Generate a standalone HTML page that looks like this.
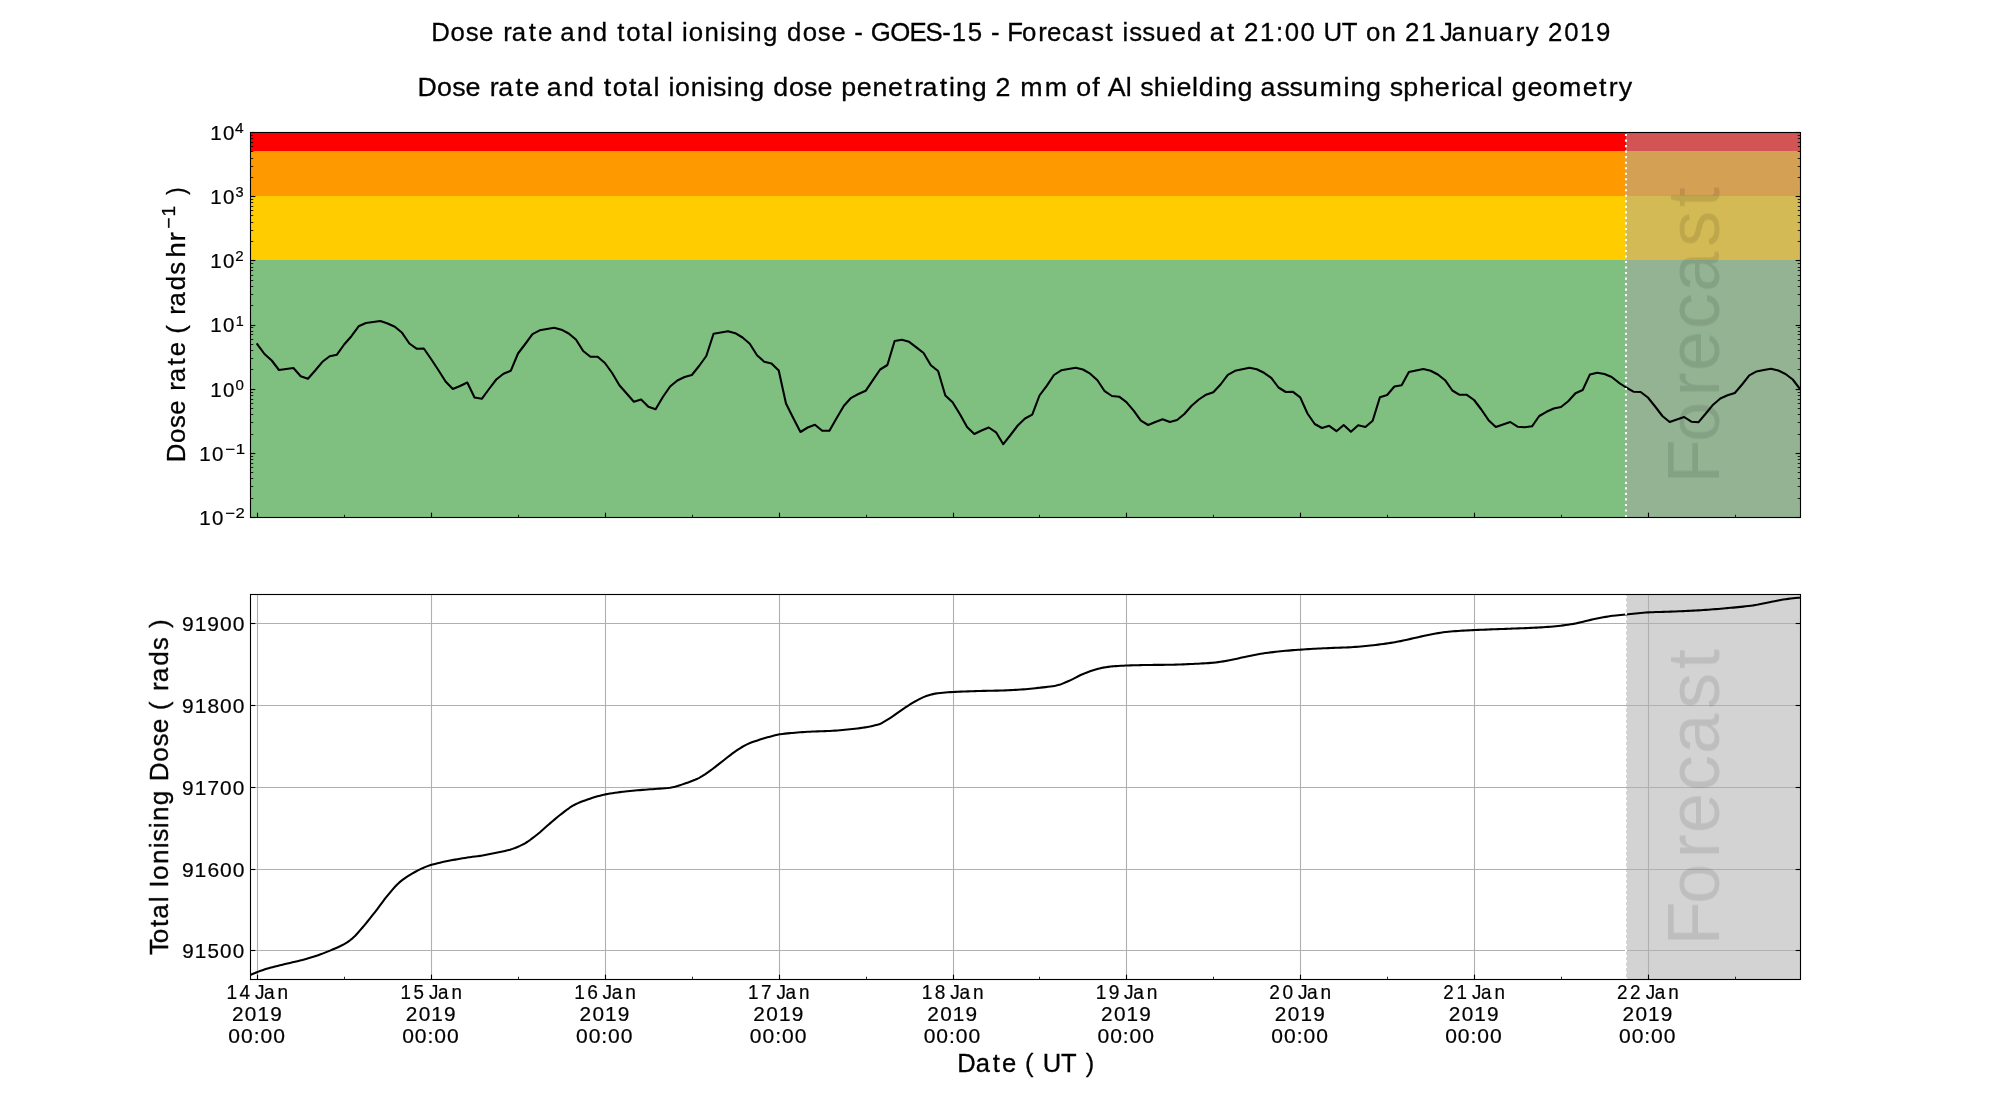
<!DOCTYPE html>
<html><head><meta charset="utf-8"><title>Dose rate and total ionising dose</title>
<style>html,body{margin:0;padding:0;background:#fff;overflow:hidden}svg{display:block}text{font-family:"Liberation Sans",sans-serif;white-space:pre}</style></head>
<body>
<svg width="2000" height="1100" viewBox="0 0 2000 1100">
<rect x="0" y="0" width="2000" height="1100" fill="#fff"/>
<g shape-rendering="crispEdges">
<rect x="250" y="132" width="1550" height="19" fill="#ff0000"/>
<rect x="250" y="151" width="1550" height="45" fill="#ff9900"/>
<rect x="250" y="196" width="1550" height="64" fill="#ffcc00"/>
<rect x="250" y="260" width="1550" height="257" fill="#7fbf7f"/>
<rect x="1626" y="132" width="174" height="385" fill="#a7a7a7" fill-opacity="0.5"/>
<rect x="1626" y="594" width="174" height="385" fill="#a7a7a7" fill-opacity="0.5"/>
</g>
<g stroke="#b0b0b0" stroke-width="1.11" fill="none">
<line x1="257.5" y1="594.0" x2="257.5" y2="979.0"/>
<line x1="431.5" y1="594.0" x2="431.5" y2="979.0"/>
<line x1="605.5" y1="594.0" x2="605.5" y2="979.0"/>
<line x1="779.5" y1="594.0" x2="779.5" y2="979.0"/>
<line x1="953.5" y1="594.0" x2="953.5" y2="979.0"/>
<line x1="1126.5" y1="594.0" x2="1126.5" y2="979.0"/>
<line x1="1300.5" y1="594.0" x2="1300.5" y2="979.0"/>
<line x1="1474.5" y1="594.0" x2="1474.5" y2="979.0"/>
<line x1="1648.5" y1="594.0" x2="1648.5" y2="979.0"/>
<line x1="250.0" y1="950.5" x2="1800.0" y2="950.5"/>
<line x1="250.0" y1="869.5" x2="1800.0" y2="869.5"/>
<line x1="250.0" y1="787.5" x2="1800.0" y2="787.5"/>
<line x1="250.0" y1="705.5" x2="1800.0" y2="705.5"/>
<line x1="250.0" y1="623.5" x2="1800.0" y2="623.5"/>
</g>
<defs><clipPath id="c1"><rect x="250" y="132" width="1550" height="385"/></clipPath><clipPath id="c2"><rect x="250" y="594" width="1550" height="385"/></clipPath></defs>
<path clip-path="url(#c1)" d="M257.24,344.20 L264.49,354.00 L271.73,360.50 L278.97,370.00 L286.21,369.00 L293.46,368.00 L300.70,376.20 L307.94,378.80 L315.19,370.50 L322.43,361.80 L329.67,356.20 L336.92,354.70 L344.16,344.50 L351.40,336.20 L358.64,326.30 L365.89,323.00 L373.13,322.00 L380.37,321.00 L387.62,323.50 L394.86,326.70 L402.10,332.80 L409.35,343.50 L416.59,348.70 L423.83,348.50 L431.07,359.00 L438.32,370.00 L445.56,381.50 L452.80,389.00 L460.05,386.00 L467.29,382.50 L474.53,397.50 L481.78,398.80 L489.02,389.00 L496.26,379.50 L503.50,373.70 L510.75,370.80 L517.99,353.50 L525.23,344.00 L532.48,334.20 L539.72,330.30 L546.96,329.00 L554.21,327.80 L561.45,329.70 L568.69,333.50 L575.93,339.50 L583.18,351.00 L590.42,356.80 L597.66,356.80 L604.91,363.00 L612.15,373.00 L619.39,385.20 L626.64,393.50 L633.88,401.80 L641.12,399.50 L648.37,406.80 L655.61,409.30 L662.85,397.00 L670.09,386.50 L677.34,380.50 L684.58,377.00 L691.82,375.00 L699.07,366.00 L706.31,356.00 L713.55,333.80 L720.80,332.50 L728.04,331.20 L735.28,333.20 L742.52,337.50 L749.77,343.70 L757.01,355.30 L764.25,361.70 L771.50,363.50 L778.74,370.50 L785.98,403.50 L793.22,418.00 L800.47,432.00 L807.71,427.50 L814.95,424.80 L822.20,430.80 L829.44,430.80 L836.68,418.00 L843.93,405.80 L851.17,397.80 L858.41,394.00 L865.65,390.80 L872.90,380.20 L880.14,369.50 L887.38,365.00 L894.63,341.00 L901.87,339.80 L909.11,341.80 L916.36,347.30 L923.60,353.00 L930.84,365.20 L938.09,371.00 L945.33,395.50 L952.57,402.20 L959.81,414.00 L967.06,427.00 L974.30,434.00 L981.54,430.50 L988.79,427.50 L996.03,432.30 L1003.27,444.20 L1010.52,435.00 L1017.76,425.50 L1025.00,418.50 L1032.24,414.70 L1039.49,395.50 L1046.73,385.80 L1053.97,375.00 L1061.22,370.30 L1068.46,369.00 L1075.70,367.80 L1082.94,369.50 L1090.19,373.70 L1097.43,380.20 L1104.67,391.20 L1111.92,396.00 L1119.16,396.70 L1126.40,402.20 L1133.65,410.70 L1140.89,420.70 L1148.13,425.00 L1155.38,422.00 L1162.62,419.20 L1169.86,422.00 L1177.10,420.00 L1184.35,414.00 L1191.59,405.70 L1198.83,399.50 L1206.08,394.70 L1213.32,392.30 L1220.56,384.50 L1227.81,374.80 L1235.05,370.80 L1242.29,369.30 L1249.53,367.80 L1256.78,369.30 L1264.02,372.80 L1271.26,377.80 L1278.51,387.50 L1285.75,392.00 L1292.99,391.80 L1300.23,397.30 L1307.48,413.50 L1314.72,424.00 L1321.96,428.00 L1329.21,425.80 L1336.45,431.20 L1343.69,425.00 L1350.94,431.80 L1358.18,425.30 L1365.42,427.00 L1372.66,420.70 L1379.91,397.30 L1387.15,395.00 L1394.39,386.50 L1401.64,385.30 L1408.88,372.00 L1416.12,370.50 L1423.37,369.00 L1430.61,370.80 L1437.85,374.50 L1445.10,380.20 L1452.34,390.50 L1459.58,394.80 L1466.82,394.80 L1474.07,400.00 L1481.31,409.50 L1488.55,420.20 L1495.80,427.00 L1503.04,424.50 L1510.28,422.00 L1517.53,426.70 L1524.77,427.30 L1532.01,426.30 L1539.25,416.00 L1546.50,411.80 L1553.74,408.50 L1560.98,407.00 L1568.23,401.30 L1575.47,393.30 L1582.71,390.00 L1589.95,374.40 L1597.20,372.80 L1604.44,374.00 L1611.68,377.00 L1618.93,382.80 L1626.17,387.50 L1633.41,391.70 L1640.66,392.00 L1647.90,397.50 L1655.14,406.50 L1662.38,416.00 L1669.63,422.00 L1676.87,419.50 L1684.11,417.00 L1691.36,421.70 L1698.60,422.20 L1705.84,413.50 L1713.09,404.70 L1720.33,398.50 L1727.57,395.30 L1734.82,393.00 L1742.06,384.50 L1749.30,375.30 L1756.54,371.40 L1763.79,370.00 L1771.03,368.80 L1778.27,370.50 L1785.52,374.00 L1792.76,379.50 L1800.00,389.00" fill="none" stroke="#000" stroke-width="2.08" stroke-linejoin="round" stroke-linecap="square"/>
<path clip-path="url(#c2)" d="M250.00,975.09 L252.50,973.99 L255.00,972.95 L257.50,971.97 L257.75,971.88 L260.00,971.05 L262.50,970.18 L265.00,969.35 L267.50,968.57 L268.75,968.20 L270.00,967.85 L272.50,967.17 L275.00,966.52 L277.50,965.90 L280.00,965.30 L282.50,964.70 L285.00,964.10 L287.50,963.49 L290.00,962.89 L292.50,962.31 L295.00,961.73 L297.50,961.15 L300.00,960.56 L302.50,959.94 L305.00,959.29 L306.25,958.95 L307.50,958.60 L310.00,957.86 L312.50,957.08 L315.00,956.26 L317.50,955.41 L318.75,954.98 L320.00,954.53 L322.50,953.61 L325.00,952.65 L327.50,951.65 L330.00,950.62 L331.25,950.10 L332.50,949.57 L335.00,948.52 L337.50,947.43 L340.00,946.28 L342.50,945.02 L343.75,944.35 L345.00,943.63 L347.50,942.06 L350.00,940.30 L352.50,938.33 L355.00,936.00 L357.50,933.30 L360.00,930.41 L362.50,927.49 L365.00,924.55 L367.50,921.51 L370.00,918.39 L372.50,915.22 L375.00,912.04 L377.50,908.77 L380.00,905.40 L382.50,902.02 L385.00,898.72 L387.50,895.61 L390.00,892.60 L392.50,889.63 L395.00,886.79 L397.50,884.18 L400.00,881.88 L402.50,879.89 L405.00,878.07 L407.50,876.41 L410.00,874.85 L412.50,873.38 L415.00,871.97 L417.50,870.62 L420.00,869.35 L422.50,868.17 L425.00,867.11 L427.50,866.14 L430.00,865.29 L431.50,864.84 L432.50,864.55 L435.00,863.88 L437.50,863.25 L440.00,862.66 L442.50,862.10 L445.00,861.57 L447.50,861.06 L450.00,860.56 L452.50,860.07 L455.00,859.61 L457.50,859.16 L460.00,858.73 L462.50,858.32 L465.00,857.91 L467.50,857.53 L468.75,857.34 L470.00,857.16 L472.50,856.82 L475.00,856.51 L477.50,856.19 L480.00,855.85 L481.25,855.66 L482.50,855.46 L485.00,855.03 L487.50,854.57 L490.00,854.09 L492.50,853.58 L495.00,853.06 L497.50,852.53 L498.75,852.26 L500.00,851.99 L502.50,851.46 L505.00,850.90 L507.50,850.31 L510.00,849.64 L511.25,849.27 L512.50,848.87 L515.00,847.98 L517.50,846.97 L520.00,845.86 L522.50,844.64 L523.75,843.99 L525.00,843.30 L527.50,841.75 L530.00,840.02 L532.50,838.16 L535.00,836.24 L536.25,835.27 L537.50,834.28 L540.00,832.18 L542.50,829.98 L545.00,827.73 L547.50,825.52 L548.75,824.45 L550.00,823.39 L552.50,821.26 L555.00,819.14 L557.50,817.06 L560.00,815.06 L561.25,814.09 L562.50,813.12 L565.00,811.18 L567.50,809.28 L570.00,807.49 L572.50,805.90 L573.75,805.21 L575.00,804.56 L577.50,803.38 L580.00,802.32 L582.50,801.33 L585.00,800.41 L586.25,799.95 L587.50,799.51 L590.00,798.65 L592.50,797.84 L595.00,797.07 L597.50,796.35 L598.75,796.01 L600.00,795.67 L602.50,795.03 L605.00,794.47 L605.40,794.39 L607.50,794.00 L610.00,793.57 L612.50,793.17 L615.00,792.80 L617.50,792.46 L620.00,792.13 L622.50,791.83 L623.75,791.68 L625.00,791.54 L627.50,791.26 L630.00,791.00 L632.50,790.76 L635.00,790.53 L637.50,790.30 L640.00,790.09 L642.50,789.88 L645.00,789.68 L647.50,789.50 L650.00,789.33 L652.50,789.17 L655.00,789.00 L657.50,788.82 L660.00,788.64 L661.25,788.54 L662.50,788.44 L665.00,788.24 L667.50,788.02 L670.00,787.73 L672.50,787.31 L675.00,786.72 L677.50,786.01 L680.00,785.21 L682.50,784.36 L685.00,783.50 L686.25,783.07 L687.50,782.65 L690.00,781.77 L692.50,780.83 L695.00,779.80 L697.50,778.68 L698.75,778.08 L700.00,777.43 L702.50,775.96 L705.00,774.33 L707.50,772.59 L710.00,770.80 L711.25,769.91 L712.50,769.01 L715.00,767.12 L717.50,765.16 L720.00,763.18 L722.50,761.22 L725.00,759.27 L727.50,757.28 L730.00,755.31 L732.50,753.41 L735.00,751.64 L737.50,749.96 L740.00,748.31 L742.50,746.75 L745.00,745.33 L747.50,744.09 L750.00,743.03 L752.50,742.08 L755.00,741.21 L757.50,740.39 L760.00,739.59 L762.50,738.81 L765.00,738.06 L767.50,737.33 L770.00,736.64 L772.50,735.98 L775.00,735.32 L777.50,734.71 L779.50,734.33 L780.00,734.25 L782.50,733.91 L785.00,733.62 L787.50,733.37 L790.00,733.15 L791.25,733.03 L792.50,732.92 L795.00,732.71 L797.50,732.50 L800.00,732.31 L802.50,732.13 L805.00,731.96 L807.50,731.81 L810.00,731.68 L812.50,731.57 L815.00,731.47 L817.50,731.39 L820.00,731.31 L822.50,731.23 L825.00,731.14 L827.50,731.04 L828.75,730.98 L830.00,730.92 L832.50,730.77 L835.00,730.61 L837.50,730.42 L840.00,730.23 L842.50,730.02 L845.00,729.79 L847.50,729.56 L850.00,729.31 L852.50,729.05 L855.00,728.76 L857.50,728.46 L860.00,728.12 L862.50,727.77 L865.00,727.38 L866.25,727.17 L867.50,726.95 L870.00,726.47 L872.50,725.91 L875.00,725.31 L877.50,724.66 L880.00,723.98 L880.45,723.85 L880.45,723.85 L882.95,722.43 L885.45,720.96 L887.95,719.44 L890.45,717.86 L891.25,717.34 L892.95,716.21 L895.45,714.44 L897.95,712.63 L900.45,710.81 L902.95,709.07 L903.75,708.53 L905.45,707.41 L907.95,705.78 L910.45,704.19 L912.95,702.67 L915.45,701.24 L916.25,700.81 L917.95,699.90 L920.45,698.59 L922.95,697.38 L925.45,696.35 L926.25,696.08 L927.95,695.53 L930.45,694.78 L932.95,694.13 L935.45,693.60 L937.50,693.28 L937.95,693.23 L940.45,692.94 L942.95,692.70 L945.45,692.49 L947.95,692.31 L950.45,692.15 L952.95,692.01 L953.50,691.98 L955.45,691.88 L957.95,691.76 L960.45,691.64 L962.95,691.54 L965.45,691.44 L967.95,691.35 L970.45,691.27 L972.95,691.19 L975.45,691.11 L977.50,691.05 L977.95,691.03 L980.45,690.97 L982.95,690.91 L985.45,690.85 L987.95,690.80 L990.45,690.75 L992.95,690.70 L995.45,690.65 L997.95,690.59 L1000.45,690.52 L1002.50,690.45 L1002.95,690.44 L1005.45,690.35 L1007.95,690.25 L1010.45,690.13 L1012.95,690.01 L1015.45,689.87 L1017.95,689.72 L1020.45,689.56 L1021.25,689.51 L1022.95,689.39 L1025.45,689.19 L1027.95,688.96 L1030.45,688.71 L1032.95,688.44 L1035.45,688.17 L1037.95,687.90 L1040.00,687.68 L1040.45,687.63 L1042.95,687.37 L1045.45,687.12 L1047.95,686.84 L1050.45,686.53 L1052.50,686.23 L1052.95,686.16 L1055.45,685.69 L1057.95,685.11 L1060.45,684.47 L1060.70,684.40 L1060.70,684.40 L1063.20,683.38 L1065.70,682.32 L1068.20,681.22 L1070.70,680.08 L1071.25,679.82 L1073.20,678.86 L1075.70,677.55 L1078.20,676.23 L1080.70,675.02 L1081.25,674.77 L1083.20,673.94 L1085.70,672.91 L1088.20,671.95 L1090.70,671.06 L1092.50,670.47 L1093.20,670.25 L1095.70,669.48 L1098.20,668.76 L1100.70,668.14 L1102.50,667.77 L1103.20,667.64 L1105.70,667.22 L1108.20,666.85 L1110.70,666.55 L1112.50,666.37 L1113.20,666.31 L1115.70,666.12 L1118.20,665.96 L1120.70,665.81 L1123.20,665.69 L1125.70,665.58 L1126.50,665.55 L1128.20,665.49 L1130.70,665.41 L1133.20,665.33 L1135.70,665.26 L1138.20,665.19 L1140.70,665.13 L1143.20,665.07 L1145.70,665.02 L1148.20,664.98 L1150.70,664.94 L1152.50,664.92 L1153.20,664.91 L1155.70,664.89 L1158.20,664.87 L1160.70,664.85 L1163.20,664.84 L1165.70,664.82 L1168.20,664.79 L1170.00,664.77 L1170.70,664.76 L1173.20,664.71 L1175.70,664.65 L1178.20,664.57 L1180.70,664.48 L1183.20,664.38 L1185.70,664.27 L1188.20,664.16 L1190.70,664.04 L1193.20,663.92 L1195.00,663.83 L1195.70,663.80 L1198.20,663.68 L1200.70,663.55 L1203.20,663.41 L1205.70,663.26 L1208.20,663.09 L1210.70,662.91 L1213.20,662.70 L1213.75,662.65 L1215.70,662.46 L1218.20,662.14 L1220.70,661.78 L1223.20,661.39 L1225.70,660.97 L1226.25,660.88 L1228.20,660.54 L1230.70,660.05 L1233.20,659.52 L1235.70,658.96 L1238.20,658.40 L1240.70,657.83 L1243.20,657.29 L1245.00,656.92 L1245.70,656.78 L1248.20,656.27 L1250.70,655.75 L1253.20,655.24 L1255.70,654.74 L1258.20,654.27 L1260.70,653.82 L1263.20,653.41 L1263.75,653.33 L1265.70,653.05 L1268.20,652.71 L1270.70,652.39 L1273.20,652.10 L1275.70,651.82 L1276.25,651.76 L1278.20,651.56 L1280.70,651.30 L1283.20,651.06 L1285.70,650.82 L1288.20,650.59 L1290.70,650.37 L1293.20,650.16 L1295.70,649.96 L1298.20,649.77 L1300.50,649.61 L1300.70,649.59 L1303.20,649.43 L1305.70,649.27 L1308.20,649.11 L1310.70,648.97 L1313.20,648.83 L1315.70,648.69 L1318.20,648.56 L1320.70,648.44 L1323.20,648.32 L1325.70,648.20 L1326.25,648.17 L1328.20,648.09 L1330.70,647.99 L1333.20,647.90 L1335.70,647.81 L1338.20,647.73 L1340.70,647.64 L1343.20,647.55 L1345.70,647.45 L1348.20,647.35 L1350.70,647.22 L1351.25,647.19 L1353.20,647.07 L1355.70,646.90 L1358.20,646.71 L1360.70,646.49 L1363.20,646.26 L1365.70,646.02 L1368.20,645.76 L1370.00,645.57 L1370.70,645.50 L1373.20,645.23 L1375.70,644.94 L1378.20,644.63 L1380.70,644.31 L1383.20,643.97 L1385.70,643.62 L1388.20,643.25 L1390.70,642.87 L1393.20,642.47 L1395.00,642.17 L1395.70,642.05 L1398.20,641.60 L1400.70,641.11 L1403.20,640.58 L1405.70,640.03 L1408.20,639.46 L1410.70,638.88 L1413.20,638.30 L1415.70,637.73 L1418.20,637.17 L1420.00,636.79 L1420.70,636.64 L1423.20,636.10 L1425.70,635.56 L1428.20,635.03 L1430.70,634.52 L1433.00,634.08 L1433.20,634.04 L1435.70,633.58 L1438.20,633.11 L1440.70,632.67 L1443.20,632.29 L1445.70,631.98 L1446.00,631.95 L1448.20,631.74 L1450.70,631.52 L1453.20,631.32 L1455.70,631.13 L1458.20,630.96 L1460.70,630.81 L1463.20,630.66 L1465.70,630.52 L1468.20,630.39 L1470.70,630.26 L1473.20,630.14 L1474.40,630.08 L1475.70,630.01 L1478.20,629.90 L1480.70,629.79 L1483.20,629.69 L1485.70,629.59 L1488.20,629.49 L1490.70,629.40 L1493.20,629.31 L1495.70,629.22 L1498.20,629.14 L1500.70,629.05 L1503.20,628.96 L1505.70,628.87 L1508.20,628.77 L1510.70,628.68 L1511.00,628.66 L1513.20,628.58 L1515.70,628.48 L1518.20,628.39 L1520.70,628.29 L1523.20,628.20 L1525.70,628.10 L1528.20,627.99 L1530.70,627.89 L1533.20,627.77 L1535.70,627.65 L1537.00,627.59 L1538.20,627.52 L1540.70,627.38 L1543.20,627.23 L1545.70,627.06 L1548.20,626.88 L1550.00,626.74 L1550.70,626.68 L1553.20,626.46 L1555.70,626.21 L1558.20,625.95 L1560.70,625.66 L1563.20,625.35 L1565.70,625.02 L1568.20,624.67 L1570.70,624.30 L1571.00,624.25 L1573.20,623.89 L1575.70,623.41 L1578.20,622.88 L1580.70,622.30 L1583.20,621.70 L1585.70,621.09 L1588.20,620.47 L1590.70,619.87 L1593.20,619.30 L1595.70,618.76 L1597.00,618.50 L1598.20,618.27 L1600.70,617.79 L1603.20,617.31 L1605.70,616.86 L1608.20,616.43 L1610.70,616.05 L1612.60,615.79 L1613.20,615.72 L1615.70,615.43 L1618.20,615.18 L1620.70,614.94 L1623.20,614.71 L1625.70,614.48 L1626.00,614.45 L1628.20,614.23 L1630.70,613.97 L1633.20,613.71 L1635.70,613.45 L1638.20,613.20 L1640.70,612.96 L1643.20,612.74 L1645.70,612.55 L1648.20,612.40 L1648.60,612.38 L1650.70,612.28 L1653.20,612.17 L1655.70,612.08 L1658.20,612.00 L1660.70,611.92 L1663.20,611.85 L1665.70,611.78 L1668.20,611.70 L1670.70,611.62 L1673.20,611.53 L1675.00,611.46 L1675.70,611.44 L1678.20,611.33 L1680.70,611.23 L1683.20,611.12 L1685.70,611.00 L1688.20,610.89 L1690.70,610.76 L1693.20,610.64 L1695.70,610.50 L1698.20,610.36 L1700.70,610.22 L1701.00,610.20 L1703.20,610.06 L1705.70,609.89 L1708.20,609.72 L1710.70,609.53 L1713.20,609.33 L1715.70,609.13 L1718.20,608.92 L1720.70,608.71 L1723.20,608.49 L1725.70,608.26 L1727.00,608.15 L1728.20,608.04 L1730.70,607.82 L1733.20,607.59 L1735.70,607.36 L1738.20,607.12 L1740.70,606.87 L1743.20,606.61 L1745.70,606.34 L1748.20,606.05 L1750.70,605.73 L1753.00,605.43 L1753.20,605.40 L1755.70,605.01 L1758.20,604.57 L1760.70,604.07 L1763.20,603.55 L1765.70,603.02 L1768.20,602.49 L1770.70,601.97 L1772.60,601.60 L1773.20,601.48 L1775.70,600.99 L1778.20,600.49 L1780.70,600.00 L1783.20,599.56 L1785.60,599.20 L1785.70,599.19 L1788.20,598.86 L1790.70,598.55 L1793.20,598.27 L1795.70,598.03 L1798.20,597.81 L1800.00,597.69" fill="none" stroke="#000" stroke-width="2.08" stroke-linejoin="round" stroke-linecap="square"/>
<line x1="1626" y1="517.0" x2="1626" y2="132.0" stroke="#fff" stroke-width="2.08" stroke-dasharray="2.08 3.44"/>
<line x1="1626" y1="979.0" x2="1626" y2="594.0" stroke="#fff" stroke-width="2.08" stroke-dasharray="2.08 3.44"/>
<g font-family='"Liberation Sans", sans-serif' fill="#000" opacity="0.999">
<text transform="translate(431.14,40.50) scale(0.9727,1)" x="0.00 19.97 35.49 49.27 64.51 74.11 82.88 100.42 109.83 125.08 132.85 149.94 166.07 181.78 191.29 200.61 217.17 225.55 242.41 248.94 257.78 264.82 280.93 297.06 303.85 317.66 325.03 341.16 356.88 365.73 381.96 397.49 411.26 426.51 434.95 444.01 451.88 472.03 491.71 508.25 525.37 535.14 551.57 567.25 575.68 584.75 592.22 607.38 624.03 633.27 648.69 662.27 678.77 693.24 702.04 710.89 717.67 731.10 745.01 761.22 777.12 792.84 800.60 818.14 826.94 835.62 852.24 868.61 877.46 893.86 909.44 917.50 936.29 952.26 960.98 977.08 992.57 1001.25 1017.86 1033.57 1037.19 1048.94 1066.03 1082.26 1097.42 1115.05 1125.25 1139.51 1148.19 1164.94 1181.21 1197.66" font-size="26.5" stroke="#000" stroke-width="0.3">Dose rate and total ionising dose - GOES-15 - Forecast issued at 21:00 UT on 21 January 2019</text>
<text transform="translate(417.54,96.20) scale(1.0118,1)" x="0.00 19.29 34.24 47.44 62.38 71.40 79.72 96.73 105.64 120.58 127.74 144.17 159.69 175.07 184.05 192.87 208.92 216.81 233.21 239.59 247.98 254.57 270.04 285.72 292.10 305.51 312.42 327.94 343.31 351.54 367.13 382.08 395.28 410.22 418.74 434.12 449.60 465.07 481.12 490.87 499.19 516.20 525.31 532.22 547.74 563.12 571.17 586.75 595.72 619.86 642.90 650.99 666.92 674.65 682.16 699.97 706.36 714.24 727.64 743.35 750.03 765.46 772.20 788.09 794.99 810.51 825.89 833.04 848.95 861.86 875.19 891.56 915.10 922.01 937.53 952.91 960.79 974.33 989.91 1005.42 1021.50 1031.05 1037.31 1050.33 1066.73 1073.11 1081.34 1097.02 1112.17 1128.21 1151.55 1167.60 1177.35 1187.09" font-size="26.5" stroke="#000" stroke-width="0.3">Dose rate and total ionising dose penetrating 2 mm of Al shielding assuming spherical geometry</text>
<text transform="translate(957.15,1072.00) scale(0.9649,1)" x="0.00 19.23 36.94 46.52 61.87 70.19 80.36 88.65 107.66 123.72 133.37" font-size="26.5" stroke="#000" stroke-width="0.3">Date ( UT )</text>
<text transform="translate(168.00,954.96) rotate(-90) scale(0.9827,1)" x="0.00 12.06 28.57 36.89 53.71 60.22 68.49 76.46 92.50 108.59 115.33 129.11 136.43 152.51 168.19 176.72 196.62 212.08 225.80 241.02 249.12 259.21 268.74 277.47 294.29 310.22 323.35 332.78" font-size="26.5" stroke="#000" stroke-width="0.3">Total Ionising Dose ( rads )</text>
<text transform="translate(185.20,462.15) rotate(-90) scale(0.9737,1)" x="0.00 19.78 35.14 48.76 63.92 73.35 82.00 99.39 108.66 123.82 131.82 141.88 151.31 159.96 176.66 192.48" font-size="26.5" stroke="#000" stroke-width="0.3">Dose rate ( rads</text>
<text transform="translate(185.20,257.72) rotate(-90) scale(1.0584,1)" x="0.00 15.28" font-size="26.5" stroke="#000" stroke-width="0.3">hr</text>
<text transform="translate(175.00,228.81) rotate(-90) scale(1.0334,1)" x="0.00 11.95" font-size="18.5" stroke="#000" stroke-width="0.3">−1</text>
<text transform="translate(185.20,194.83) rotate(-90) scale(0.8255,1)" x="0.00" font-size="26.5" stroke="#000" stroke-width="0.3">)</text>
<text transform="translate(1719.00,483.44) rotate(-90) scale(0.9825,1)" x="0.00 42.17 88.48 114.23 157.12 194.93 240.84 281.09" font-size="73.6" fill-opacity="0.1">Forecast</text>
<text transform="translate(1719.00,945.44) rotate(-90) scale(0.9825,1)" x="0.00 42.17 88.48 114.23 157.12 194.93 240.84 281.09" font-size="73.6" fill-opacity="0.1">Forecast</text>
<text transform="translate(210.33,139.90) scale(0.9960,1)" x="0.00 12.81" font-size="20.6" stroke="#000" stroke-width="0.22">10</text>
<text transform="translate(235.04,133.00) scale(1.0749,1)" x="0.00" font-size="14.4" stroke="#000" stroke-width="0.22">4</text>
<text transform="translate(210.33,204.07) scale(0.9960,1)" x="0.00 12.81" font-size="20.6" stroke="#000" stroke-width="0.22">10</text>
<text transform="translate(235.45,197.17) scale(1.0106,1)" x="0.00" font-size="14.4" stroke="#000" stroke-width="0.22">3</text>
<text transform="translate(210.33,268.23) scale(0.9960,1)" x="0.00 12.81" font-size="20.6" stroke="#000" stroke-width="0.22">10</text>
<text transform="translate(235.24,261.33) scale(1.0518,1)" x="0.00" font-size="14.4" stroke="#000" stroke-width="0.22">2</text>
<text transform="translate(210.33,332.40) scale(0.9960,1)" x="0.00 12.81" font-size="20.6" stroke="#000" stroke-width="0.22">10</text>
<text transform="translate(235.70,325.50) scale(0.9986,1)" x="0.00" font-size="14.4" stroke="#000" stroke-width="0.22">1</text>
<text transform="translate(210.33,396.57) scale(0.9960,1)" x="0.00 12.81" font-size="20.6" stroke="#000" stroke-width="0.22">10</text>
<text transform="translate(235.41,389.67) scale(1.0460,1)" x="0.00" font-size="14.4" stroke="#000" stroke-width="0.22">0</text>
<text transform="translate(199.23,460.73) scale(0.9960,1)" x="0.00 12.81" font-size="20.6" stroke="#000" stroke-width="0.22">10</text>
<text transform="translate(224.94,453.83) scale(1.1703,1)" x="0.00 9.30" font-size="14.4" stroke="#000" stroke-width="0.22">−1</text>
<text transform="translate(199.23,524.90) scale(0.9960,1)" x="0.00 12.81" font-size="20.6" stroke="#000" stroke-width="0.22">10</text>
<text transform="translate(224.94,518.00) scale(1.1592,1)" x="0.00 9.21" font-size="14.4" stroke="#000" stroke-width="0.22">−2</text>
<text transform="translate(182.15,957.80) scale(1.0026,1)" x="0.00 12.56 25.19 37.86 50.46" font-size="20.6" stroke="#000" stroke-width="0.22">91500</text>
<text transform="translate(182.05,876.80) scale(1.0214,1)" x="0.00 12.32 24.80 37.17 49.54" font-size="20.6" stroke="#000" stroke-width="0.22">91600</text>
<text transform="translate(182.11,794.80) scale(1.0099,1)" x="0.00 12.47 25.04 37.59 50.10" font-size="20.6" stroke="#000" stroke-width="0.22">91700</text>
<text transform="translate(182.08,712.80) scale(1.0165,1)" x="0.00 12.38 24.92 37.35 49.78" font-size="20.6" stroke="#000" stroke-width="0.22">91800</text>
<text transform="translate(182.05,630.80) scale(1.0210,1)" x="0.00 12.33 24.75 37.18 49.56" font-size="20.6" stroke="#000" stroke-width="0.22">91900</text>
<text transform="translate(226.51,999.00) scale(0.9251,1)" x="0.00 14.10 26.86 30.77 40.62 55.19" font-size="20.6" stroke="#000" stroke-width="0.22">14 Jan</text>
<text transform="translate(231.88,1020.80) scale(1.0092,1)" x="0.00 12.84 25.31 37.92" font-size="20.6" stroke="#000" stroke-width="0.22">2019</text>
<text transform="translate(228.31,1042.70) scale(1.0230,1)" x="0.00 12.42 24.79 31.41 43.83" font-size="20.6" stroke="#000" stroke-width="0.22">00:00</text>
<text transform="translate(400.43,999.00) scale(0.9111,1)" x="0.00 14.23 27.18 31.28 41.24 56.03" font-size="20.6" stroke="#000" stroke-width="0.22">15 Jan</text>
<text transform="translate(405.71,1020.80) scale(1.0092,1)" x="0.00 12.84 25.31 37.92" font-size="20.6" stroke="#000" stroke-width="0.22">2019</text>
<text transform="translate(402.15,1042.70) scale(1.0230,1)" x="0.00 12.42 24.79 31.41 43.83" font-size="20.6" stroke="#000" stroke-width="0.22">00:00</text>
<text transform="translate(574.14,999.00) scale(0.9303,1)" x="0.00 14.04 26.74 30.58 40.39 54.88" font-size="20.6" stroke="#000" stroke-width="0.22">16 Jan</text>
<text transform="translate(579.54,1020.80) scale(1.0092,1)" x="0.00 12.84 25.31 37.92" font-size="20.6" stroke="#000" stroke-width="0.22">2019</text>
<text transform="translate(575.98,1042.70) scale(1.0230,1)" x="0.00 12.42 24.79 31.41 43.83" font-size="20.6" stroke="#000" stroke-width="0.22">00:00</text>
<text transform="translate(748.05,999.00) scale(0.9178,1)" x="0.00 14.18 27.02 31.03 40.94 55.62" font-size="20.6" stroke="#000" stroke-width="0.22">17 Jan</text>
<text transform="translate(753.37,1020.80) scale(1.0092,1)" x="0.00 12.84 25.31 37.92" font-size="20.6" stroke="#000" stroke-width="0.22">2019</text>
<text transform="translate(749.81,1042.70) scale(1.0230,1)" x="0.00 12.42 24.79 31.41 43.83" font-size="20.6" stroke="#000" stroke-width="0.22">00:00</text>
<text transform="translate(921.83,999.00) scale(0.9256,1)" x="0.00 14.10 26.85 30.75 40.60 55.16" font-size="20.6" stroke="#000" stroke-width="0.22">18 Jan</text>
<text transform="translate(927.21,1020.80) scale(1.0092,1)" x="0.00 12.84 25.31 37.92" font-size="20.6" stroke="#000" stroke-width="0.22">2019</text>
<text transform="translate(923.64,1042.70) scale(1.0230,1)" x="0.00 12.42 24.79 31.41 43.83" font-size="20.6" stroke="#000" stroke-width="0.22">00:00</text>
<text transform="translate(1095.64,999.00) scale(0.9299,1)" x="0.00 13.97 26.75 30.59 40.41 54.90" font-size="20.6" stroke="#000" stroke-width="0.22">19 Jan</text>
<text transform="translate(1101.04,1020.80) scale(1.0092,1)" x="0.00 12.84 25.31 37.92" font-size="20.6" stroke="#000" stroke-width="0.22">2019</text>
<text transform="translate(1097.47,1042.70) scale(1.0230,1)" x="0.00 12.42 24.79 31.41 43.83" font-size="20.6" stroke="#000" stroke-width="0.22">00:00</text>
<text transform="translate(1269.35,999.00) scale(0.9256,1)" x="0.00 14.30 27.04 30.93 40.77 55.32" font-size="20.6" stroke="#000" stroke-width="0.22">20 Jan</text>
<text transform="translate(1274.87,1020.80) scale(1.0092,1)" x="0.00 12.84 25.31 37.92" font-size="20.6" stroke="#000" stroke-width="0.22">2019</text>
<text transform="translate(1271.31,1042.70) scale(1.0230,1)" x="0.00 12.42 24.79 31.41 43.83" font-size="20.6" stroke="#000" stroke-width="0.22">00:00</text>
<text transform="translate(1443.25,999.00) scale(0.9141,1)" x="0.00 14.40 27.30 31.36 41.29 56.02" font-size="20.6" stroke="#000" stroke-width="0.22">21 Jan</text>
<text transform="translate(1448.70,1020.80) scale(1.0092,1)" x="0.00 12.84 25.31 37.92" font-size="20.6" stroke="#000" stroke-width="0.22">2019</text>
<text transform="translate(1445.14,1042.70) scale(1.0230,1)" x="0.00 12.42 24.79 31.41 43.83" font-size="20.6" stroke="#000" stroke-width="0.22">00:00</text>
<text transform="translate(1617.06,999.00) scale(0.9168,1)" x="0.00 14.14 27.24 31.26 41.16 55.85" font-size="20.6" stroke="#000" stroke-width="0.22">22 Jan</text>
<text transform="translate(1622.53,1020.80) scale(1.0092,1)" x="0.00 12.84 25.31 37.92" font-size="20.6" stroke="#000" stroke-width="0.22">2019</text>
<text transform="translate(1618.97,1042.70) scale(1.0230,1)" x="0.00 12.42 24.79 31.41 43.83" font-size="20.6" stroke="#000" stroke-width="0.22">00:00</text>
</g>
<g stroke="#000" fill="none"><line x1="250.50" y1="132.5" x2="255.36" y2="132.5" stroke-width="1.11"/><line x1="1795.64" y1="132.5" x2="1800.50" y2="132.5" stroke-width="1.11"/><line x1="250.50" y1="177.5" x2="253.28" y2="177.5" stroke-width="0.83"/><line x1="1797.72" y1="177.5" x2="1800.50" y2="177.5" stroke-width="0.83"/><line x1="250.50" y1="166.5" x2="253.28" y2="166.5" stroke-width="0.83"/><line x1="1797.72" y1="166.5" x2="1800.50" y2="166.5" stroke-width="0.83"/><line x1="250.50" y1="158.5" x2="253.28" y2="158.5" stroke-width="0.83"/><line x1="1797.72" y1="158.5" x2="1800.50" y2="158.5" stroke-width="0.83"/><line x1="250.50" y1="151.5" x2="253.28" y2="151.5" stroke-width="0.83"/><line x1="1797.72" y1="151.5" x2="1800.50" y2="151.5" stroke-width="0.83"/><line x1="250.50" y1="146.5" x2="253.28" y2="146.5" stroke-width="0.83"/><line x1="1797.72" y1="146.5" x2="1800.50" y2="146.5" stroke-width="0.83"/><line x1="250.50" y1="142.5" x2="253.28" y2="142.5" stroke-width="0.83"/><line x1="1797.72" y1="142.5" x2="1800.50" y2="142.5" stroke-width="0.83"/><line x1="250.50" y1="138.5" x2="253.28" y2="138.5" stroke-width="0.83"/><line x1="1797.72" y1="138.5" x2="1800.50" y2="138.5" stroke-width="0.83"/><line x1="250.50" y1="135.5" x2="253.28" y2="135.5" stroke-width="0.83"/><line x1="1797.72" y1="135.5" x2="1800.50" y2="135.5" stroke-width="0.83"/><line x1="250.50" y1="196.5" x2="255.36" y2="196.5" stroke-width="1.11"/><line x1="1795.64" y1="196.5" x2="1800.50" y2="196.5" stroke-width="1.11"/><line x1="250.50" y1="241.5" x2="253.28" y2="241.5" stroke-width="0.83"/><line x1="1797.72" y1="241.5" x2="1800.50" y2="241.5" stroke-width="0.83"/><line x1="250.50" y1="230.5" x2="253.28" y2="230.5" stroke-width="0.83"/><line x1="1797.72" y1="230.5" x2="1800.50" y2="230.5" stroke-width="0.83"/><line x1="250.50" y1="222.5" x2="253.28" y2="222.5" stroke-width="0.83"/><line x1="1797.72" y1="222.5" x2="1800.50" y2="222.5" stroke-width="0.83"/><line x1="250.50" y1="215.5" x2="253.28" y2="215.5" stroke-width="0.83"/><line x1="1797.72" y1="215.5" x2="1800.50" y2="215.5" stroke-width="0.83"/><line x1="250.50" y1="210.5" x2="253.28" y2="210.5" stroke-width="0.83"/><line x1="1797.72" y1="210.5" x2="1800.50" y2="210.5" stroke-width="0.83"/><line x1="250.50" y1="206.5" x2="253.28" y2="206.5" stroke-width="0.83"/><line x1="1797.72" y1="206.5" x2="1800.50" y2="206.5" stroke-width="0.83"/><line x1="250.50" y1="202.5" x2="253.28" y2="202.5" stroke-width="0.83"/><line x1="1797.72" y1="202.5" x2="1800.50" y2="202.5" stroke-width="0.83"/><line x1="250.50" y1="199.5" x2="253.28" y2="199.5" stroke-width="0.83"/><line x1="1797.72" y1="199.5" x2="1800.50" y2="199.5" stroke-width="0.83"/><line x1="250.50" y1="260.5" x2="255.36" y2="260.5" stroke-width="1.11"/><line x1="1795.64" y1="260.5" x2="1800.50" y2="260.5" stroke-width="1.11"/><line x1="250.50" y1="305.5" x2="253.28" y2="305.5" stroke-width="0.83"/><line x1="1797.72" y1="305.5" x2="1800.50" y2="305.5" stroke-width="0.83"/><line x1="250.50" y1="294.5" x2="253.28" y2="294.5" stroke-width="0.83"/><line x1="1797.72" y1="294.5" x2="1800.50" y2="294.5" stroke-width="0.83"/><line x1="250.50" y1="286.5" x2="253.28" y2="286.5" stroke-width="0.83"/><line x1="1797.72" y1="286.5" x2="1800.50" y2="286.5" stroke-width="0.83"/><line x1="250.50" y1="280.5" x2="253.28" y2="280.5" stroke-width="0.83"/><line x1="1797.72" y1="280.5" x2="1800.50" y2="280.5" stroke-width="0.83"/><line x1="250.50" y1="275.5" x2="253.28" y2="275.5" stroke-width="0.83"/><line x1="1797.72" y1="275.5" x2="1800.50" y2="275.5" stroke-width="0.83"/><line x1="250.50" y1="270.5" x2="253.28" y2="270.5" stroke-width="0.83"/><line x1="1797.72" y1="270.5" x2="1800.50" y2="270.5" stroke-width="0.83"/><line x1="250.50" y1="267.5" x2="253.28" y2="267.5" stroke-width="0.83"/><line x1="1797.72" y1="267.5" x2="1800.50" y2="267.5" stroke-width="0.83"/><line x1="250.50" y1="263.5" x2="253.28" y2="263.5" stroke-width="0.83"/><line x1="1797.72" y1="263.5" x2="1800.50" y2="263.5" stroke-width="0.83"/><line x1="250.50" y1="325.5" x2="255.36" y2="325.5" stroke-width="1.11"/><line x1="1795.64" y1="325.5" x2="1800.50" y2="325.5" stroke-width="1.11"/><line x1="250.50" y1="369.5" x2="253.28" y2="369.5" stroke-width="0.83"/><line x1="1797.72" y1="369.5" x2="1800.50" y2="369.5" stroke-width="0.83"/><line x1="250.50" y1="358.5" x2="253.28" y2="358.5" stroke-width="0.83"/><line x1="1797.72" y1="358.5" x2="1800.50" y2="358.5" stroke-width="0.83"/><line x1="250.50" y1="350.5" x2="253.28" y2="350.5" stroke-width="0.83"/><line x1="1797.72" y1="350.5" x2="1800.50" y2="350.5" stroke-width="0.83"/><line x1="250.50" y1="344.5" x2="253.28" y2="344.5" stroke-width="0.83"/><line x1="1797.72" y1="344.5" x2="1800.50" y2="344.5" stroke-width="0.83"/><line x1="250.50" y1="339.5" x2="253.28" y2="339.5" stroke-width="0.83"/><line x1="1797.72" y1="339.5" x2="1800.50" y2="339.5" stroke-width="0.83"/><line x1="250.50" y1="334.5" x2="253.28" y2="334.5" stroke-width="0.83"/><line x1="1797.72" y1="334.5" x2="1800.50" y2="334.5" stroke-width="0.83"/><line x1="250.50" y1="331.5" x2="253.28" y2="331.5" stroke-width="0.83"/><line x1="1797.72" y1="331.5" x2="1800.50" y2="331.5" stroke-width="0.83"/><line x1="250.50" y1="327.5" x2="253.28" y2="327.5" stroke-width="0.83"/><line x1="1797.72" y1="327.5" x2="1800.50" y2="327.5" stroke-width="0.83"/><line x1="250.50" y1="389.5" x2="255.36" y2="389.5" stroke-width="1.11"/><line x1="1795.64" y1="389.5" x2="1800.50" y2="389.5" stroke-width="1.11"/><line x1="250.50" y1="434.5" x2="253.28" y2="434.5" stroke-width="0.83"/><line x1="1797.72" y1="434.5" x2="1800.50" y2="434.5" stroke-width="0.83"/><line x1="250.50" y1="422.5" x2="253.28" y2="422.5" stroke-width="0.83"/><line x1="1797.72" y1="422.5" x2="1800.50" y2="422.5" stroke-width="0.83"/><line x1="250.50" y1="414.5" x2="253.28" y2="414.5" stroke-width="0.83"/><line x1="1797.72" y1="414.5" x2="1800.50" y2="414.5" stroke-width="0.83"/><line x1="250.50" y1="408.5" x2="253.28" y2="408.5" stroke-width="0.83"/><line x1="1797.72" y1="408.5" x2="1800.50" y2="408.5" stroke-width="0.83"/><line x1="250.50" y1="403.5" x2="253.28" y2="403.5" stroke-width="0.83"/><line x1="1797.72" y1="403.5" x2="1800.50" y2="403.5" stroke-width="0.83"/><line x1="250.50" y1="399.5" x2="253.28" y2="399.5" stroke-width="0.83"/><line x1="1797.72" y1="399.5" x2="1800.50" y2="399.5" stroke-width="0.83"/><line x1="250.50" y1="395.5" x2="253.28" y2="395.5" stroke-width="0.83"/><line x1="1797.72" y1="395.5" x2="1800.50" y2="395.5" stroke-width="0.83"/><line x1="250.50" y1="392.5" x2="253.28" y2="392.5" stroke-width="0.83"/><line x1="1797.72" y1="392.5" x2="1800.50" y2="392.5" stroke-width="0.83"/><line x1="250.50" y1="453.5" x2="255.36" y2="453.5" stroke-width="1.11"/><line x1="1795.64" y1="453.5" x2="1800.50" y2="453.5" stroke-width="1.11"/><line x1="250.50" y1="498.5" x2="253.28" y2="498.5" stroke-width="0.83"/><line x1="1797.72" y1="498.5" x2="1800.50" y2="498.5" stroke-width="0.83"/><line x1="250.50" y1="486.5" x2="253.28" y2="486.5" stroke-width="0.83"/><line x1="1797.72" y1="486.5" x2="1800.50" y2="486.5" stroke-width="0.83"/><line x1="250.50" y1="478.5" x2="253.28" y2="478.5" stroke-width="0.83"/><line x1="1797.72" y1="478.5" x2="1800.50" y2="478.5" stroke-width="0.83"/><line x1="250.50" y1="472.5" x2="253.28" y2="472.5" stroke-width="0.83"/><line x1="1797.72" y1="472.5" x2="1800.50" y2="472.5" stroke-width="0.83"/><line x1="250.50" y1="467.5" x2="253.28" y2="467.5" stroke-width="0.83"/><line x1="1797.72" y1="467.5" x2="1800.50" y2="467.5" stroke-width="0.83"/><line x1="250.50" y1="463.5" x2="253.28" y2="463.5" stroke-width="0.83"/><line x1="1797.72" y1="463.5" x2="1800.50" y2="463.5" stroke-width="0.83"/><line x1="250.50" y1="459.5" x2="253.28" y2="459.5" stroke-width="0.83"/><line x1="1797.72" y1="459.5" x2="1800.50" y2="459.5" stroke-width="0.83"/><line x1="250.50" y1="456.5" x2="253.28" y2="456.5" stroke-width="0.83"/><line x1="1797.72" y1="456.5" x2="1800.50" y2="456.5" stroke-width="0.83"/><line x1="250.50" y1="517.5" x2="255.36" y2="517.5" stroke-width="1.11"/><line x1="1795.64" y1="517.5" x2="1800.50" y2="517.5" stroke-width="1.11"/><line x1="250.50" y1="950.5" x2="255.36" y2="950.5" stroke-width="1.11"/><line x1="1795.64" y1="950.5" x2="1800.50" y2="950.5" stroke-width="1.11"/><line x1="250.50" y1="869.5" x2="255.36" y2="869.5" stroke-width="1.11"/><line x1="1795.64" y1="869.5" x2="1800.50" y2="869.5" stroke-width="1.11"/><line x1="250.50" y1="787.5" x2="255.36" y2="787.5" stroke-width="1.11"/><line x1="1795.64" y1="787.5" x2="1800.50" y2="787.5" stroke-width="1.11"/><line x1="250.50" y1="705.5" x2="255.36" y2="705.5" stroke-width="1.11"/><line x1="1795.64" y1="705.5" x2="1800.50" y2="705.5" stroke-width="1.11"/><line x1="250.50" y1="623.5" x2="255.36" y2="623.5" stroke-width="1.11"/><line x1="1795.64" y1="623.5" x2="1800.50" y2="623.5" stroke-width="1.11"/><line x1="257.5" y1="512.64" x2="257.5" y2="517.50" stroke-width="1.11"/><line x1="344.5" y1="514.72" x2="344.5" y2="517.50" stroke-width="0.83"/><line x1="431.5" y1="512.64" x2="431.5" y2="517.50" stroke-width="1.11"/><line x1="518.5" y1="514.72" x2="518.5" y2="517.50" stroke-width="0.83"/><line x1="605.5" y1="512.64" x2="605.5" y2="517.50" stroke-width="1.11"/><line x1="692.5" y1="514.72" x2="692.5" y2="517.50" stroke-width="0.83"/><line x1="779.5" y1="512.64" x2="779.5" y2="517.50" stroke-width="1.11"/><line x1="866.5" y1="514.72" x2="866.5" y2="517.50" stroke-width="0.83"/><line x1="953.5" y1="512.64" x2="953.5" y2="517.50" stroke-width="1.11"/><line x1="1039.5" y1="514.72" x2="1039.5" y2="517.50" stroke-width="0.83"/><line x1="1126.5" y1="512.64" x2="1126.5" y2="517.50" stroke-width="1.11"/><line x1="1213.5" y1="514.72" x2="1213.5" y2="517.50" stroke-width="0.83"/><line x1="1300.5" y1="512.64" x2="1300.5" y2="517.50" stroke-width="1.11"/><line x1="1387.5" y1="514.72" x2="1387.5" y2="517.50" stroke-width="0.83"/><line x1="1474.5" y1="512.64" x2="1474.5" y2="517.50" stroke-width="1.11"/><line x1="1561.5" y1="514.72" x2="1561.5" y2="517.50" stroke-width="0.83"/><line x1="1648.5" y1="512.64" x2="1648.5" y2="517.50" stroke-width="1.11"/><line x1="1735.5" y1="514.72" x2="1735.5" y2="517.50" stroke-width="0.83"/><line x1="257.5" y1="974.64" x2="257.5" y2="979.50" stroke-width="1.11"/><line x1="344.5" y1="976.72" x2="344.5" y2="979.50" stroke-width="0.83"/><line x1="431.5" y1="974.64" x2="431.5" y2="979.50" stroke-width="1.11"/><line x1="518.5" y1="976.72" x2="518.5" y2="979.50" stroke-width="0.83"/><line x1="605.5" y1="974.64" x2="605.5" y2="979.50" stroke-width="1.11"/><line x1="692.5" y1="976.72" x2="692.5" y2="979.50" stroke-width="0.83"/><line x1="779.5" y1="974.64" x2="779.5" y2="979.50" stroke-width="1.11"/><line x1="866.5" y1="976.72" x2="866.5" y2="979.50" stroke-width="0.83"/><line x1="953.5" y1="974.64" x2="953.5" y2="979.50" stroke-width="1.11"/><line x1="1039.5" y1="976.72" x2="1039.5" y2="979.50" stroke-width="0.83"/><line x1="1126.5" y1="974.64" x2="1126.5" y2="979.50" stroke-width="1.11"/><line x1="1213.5" y1="976.72" x2="1213.5" y2="979.50" stroke-width="0.83"/><line x1="1300.5" y1="974.64" x2="1300.5" y2="979.50" stroke-width="1.11"/><line x1="1387.5" y1="976.72" x2="1387.5" y2="979.50" stroke-width="0.83"/><line x1="1474.5" y1="974.64" x2="1474.5" y2="979.50" stroke-width="1.11"/><line x1="1561.5" y1="976.72" x2="1561.5" y2="979.50" stroke-width="0.83"/><line x1="1648.5" y1="974.64" x2="1648.5" y2="979.50" stroke-width="1.11"/><line x1="1735.5" y1="976.72" x2="1735.5" y2="979.50" stroke-width="0.83"/></g>
<rect x="250.5" y="132.5" width="1550.0" height="385.0" fill="none" stroke="#000" stroke-width="1.11"/>
<rect x="250.5" y="594.5" width="1550.0" height="385.0" fill="none" stroke="#000" stroke-width="1.11"/>
</svg>
</body></html>
